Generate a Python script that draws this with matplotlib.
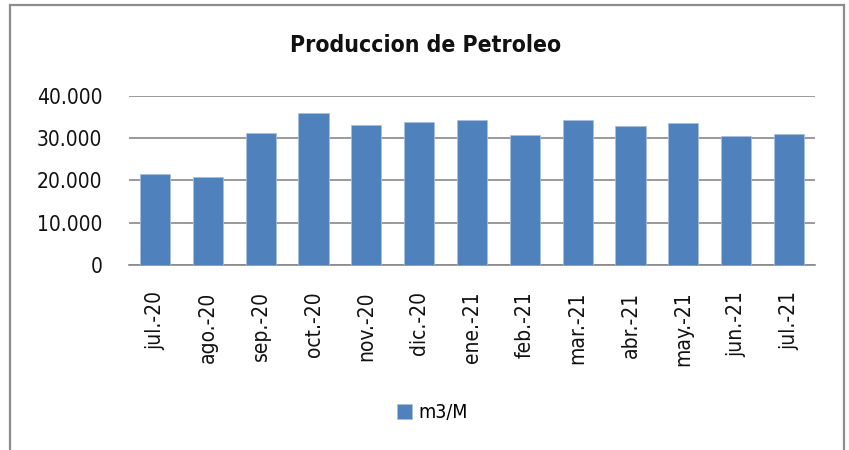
import matplotlib
matplotlib.use("Agg")
import matplotlib.pyplot as plt
from matplotlib.ticker import FuncFormatter
from matplotlib.patches import Rectangle

# Produccion mensual (m3/M)
meses = ['jul.-20', 'ago.-20', 'sep.-20', 'oct.-20', 'nov.-20', 'dic.-20', 'ene.-21',
         'feb.-21', 'mar.-21', 'abr.-21', 'may.-21', 'jun.-21', 'jul.-21']
produccion = [21450, 20750, 31300, 35950, 33250, 33950, 34200,
              30650, 34300, 32800, 33500, 30450, 30900]
yticks = [0, 10000, 20000, 30000, 40000]

plt.rcParams['font.family'] = ['DejaVu Sans']
plt.rcParams['font.stretch'] = 'condensed'

fig = plt.figure(figsize=(8.49, 4.5), dpi=100)
ax = fig.add_axes([0.1515, 0.4111, 0.809, 0.3756])

x = range(len(meses))
ax.bar(x, produccion, width=0.57, color='#4f81bd', edgecolor='#a7c0de', linewidth=0.6,
       label='m3/M', zorder=3)

ax.set_xlim(-0.5, len(meses) - 0.5)
ax.set_ylim(0, 40000)
ax.set_yticks(yticks)
ax.yaxis.set_major_formatter(FuncFormatter(lambda v, p: '{:,.0f}'.format(v).replace(',', '.')))
ax.set_xticks(list(x))
ax.set_xticklabels(meses, rotation=90)
ax.tick_params(axis='both', length=0, labelsize=15, colors='#111111')
ax.tick_params(axis='y', pad=19)
ax.tick_params(axis='x', pad=19)

ax.grid(axis='y', color='#898989', linewidth=1.2, zorder=0)
for s in ['top', 'right', 'left']:
    ax.spines[s].set_visible(False)
ax.spines['bottom'].set_color('#898989')
ax.spines['bottom'].set_linewidth(1.2)

fig.text(0.501, 1 - 46 / 450, 'Produccion de Petroleo', ha='center', va='center',
         fontsize=16.5, fontweight='bold', color='#111111')

fig.legend(loc='center', bbox_to_anchor=(432 / 849, 1 - 413 / 450), frameon=False,
           fontsize=14, handlelength=0.8, handleheight=0.8, handletextpad=0.3)

# marco del grafico
fig.patches.append(Rectangle((9.5 / 849, -0.05), 834 / 849, 1.05 - 5 / 450,
                             transform=fig.transFigure, fill=False,
                             edgecolor='#8c8c8c', linewidth=1.6))

fig.savefig('out.png', dpi=100)
